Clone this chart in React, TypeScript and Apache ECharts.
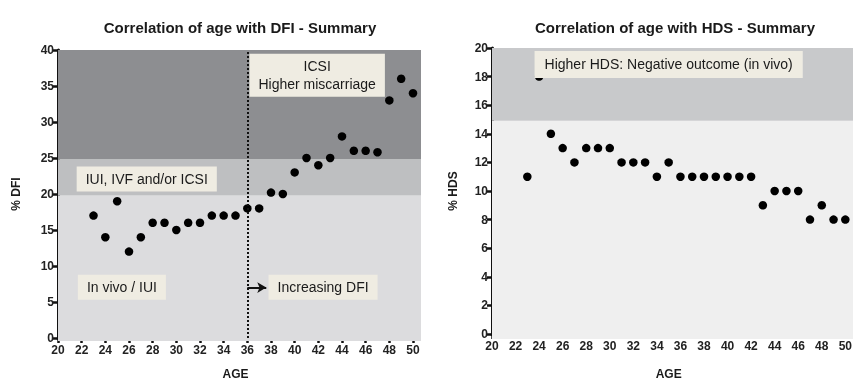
import React, { useEffect, useRef } from "react";
import * as echarts from "echarts";

const ages = [23, 24, 25, 26, 27, 28, 29, 30, 31, 32, 33, 34, 35, 36, 37, 38, 39, 40, 41, 42, 43, 44, 45, 46, 47, 48, 49, 50];
const dfiValues = [17, 14, 19, 12, 14, 16, 16, 15, 16, 16, 17, 17, 17, 18, 18, 20.2, 20, 23, 25, 24, 25, 28, 26, 26, 25.8, 33, 36, 34];
const hdsValues = [11, 18, 14, 13, 12, 13, 13, 13, 12, 12, 12, 11, 12, 11, 11, 11, 11, 11, 11, 11, 9, 10, 10, 10, 8, 9, 8, 8];

const xTicks = [20, 22, 24, 26, 28, 30, 32, 34, 36, 38, 40, 42, 44, 46, 48, 50];
const dfiBands = [[0, 20], [20, 25], [25, 40]];
const hdsBands = [[0, 15], [15, 20]];
const dfiThresholdAge = 36;
const arrowFrom = [36, 7];
const arrowTo = [37.6, 7];

const dfiNotes = [
  { name: "ICSI\nHigher miscarriage", pos: [41.9, 36.5] },
  { name: "IUI, IVF and/or ICSI", pos: [27.5, 22.1] },
  { name: "In vivo / IUI", pos: [25.4, 7.05] },
  { name: "Increasing DFI", pos: [42.4, 7.05] },
];
const hdsNotes = [{ name: "Higher HDS: Negative outcome (in vivo)", pos: [35, 18.85] }];

const FONT = "'Liberation Sans', Arial, Helvetica, sans-serif";
const dfiBandColors = ["#dcdcde", "#bebfc1", "#8d8e91"];
const hdsBandColors = ["#efefef", "#c8c9cb"];

export default function App() {
  const ref = useRef<HTMLDivElement>(null);
  useEffect(() => {
    if (!ref.current) return;
    const chart = echarts.init(ref.current, undefined, { renderer: "svg" });

    const axisLabel = { fontFamily: FONT, fontWeight: "bold", fontSize: 12, color: "#222" };
    const axisLine = { show: true, onZero: false, lineStyle: { color: "#111", width: 3 } };
    const axisTick = { show: true, length: 5, lineStyle: { color: "#111", width: 2.5 } };
    const nameStyle = { fontFamily: FONT, fontWeight: "bold", fontSize: 12, color: "#1a1a1a" };

    const mkX = (gridIndex: number, name: string, gap: number) => ({
      type: "value", gridIndex, min: xTicks[0], max: xTicks[xTicks.length - 1], interval: 2,
      name, nameLocation: "middle", nameGap: gap, nameTextStyle: nameStyle,
      axisLine, axisTick, axisLabel: { ...axisLabel, margin: 6 }, splitLine: { show: false },
    });
    const mkY = (gridIndex: number, max: number, interval: number, name: string, gap: number) => ({
      type: "value", gridIndex, min: 0, max, interval,
      name, nameLocation: "middle", nameGap: gap, nameRotate: 90, nameTextStyle: nameStyle,
      axisLine, axisTick, axisLabel: { ...axisLabel, margin: 4 }, splitLine: { show: false },
    });
    const hiddenX = (gridIndex: number, max: number) => ({
      type: "value", gridIndex, min: 20, max, show: false, splitLine: { show: false },
    });
    const hiddenY = (gridIndex: number, max: number) => ({
      type: "value", gridIndex, min: 0, max, show: false, splitLine: { show: false },
    });

    const bandSeries = (xi: number, yi: number, bands: number[][], colors: string[]) => ({
      type: "scatter", xAxisIndex: xi, yAxisIndex: yi, silent: true, z: 0,
      symbolSize: 0, data: [[20, 0]],
      markArea: {
        silent: true, label: { show: false },
        data: bands.map((b, i) => [{ yAxis: b[0], itemStyle: { color: colors[i], opacity: 1 } }, { yAxis: b[1] }]),
      },
    });

    const noteSeries = (xi: number, yi: number, notes: { name: string; pos: number[] }[], padding: number[]) => ({
      type: "scatter", xAxisIndex: xi, yAxisIndex: yi, silent: true, z: 10,
      symbolSize: 1, itemStyle: { color: "rgba(0,0,0,0)", opacity: 1 },
      data: notes.map((n) => ({ name: n.name, value: n.pos })),
      label: {
        show: true, position: "inside", formatter: (p: any) => p.name,
        fontFamily: FONT, fontSize: 14, color: "#1a1a1a", lineHeight: 18, align: "center",
        backgroundColor: "#efece2", padding,
      },
    });

    chart.setOption({
      animation: false,
      title: [
        { text: "Correlation of age with DFI - Summary", left: 235, top: 15, textAlign: "center",
          textStyle: { fontFamily: FONT, fontWeight: "bold", fontSize: 15, color: "#1a1a1a" } },
        { text: "Correlation of age with HDS - Summary", left: 670, top: 15, textAlign: "center",
          textStyle: { fontFamily: FONT, fontWeight: "bold", fontSize: 15, color: "#1a1a1a" } },
      ],
      grid: [
        { left: 58, right: 442, top: 50, bottom: 44 },
        { left: 58, right: 434, top: 50, bottom: 44 },
        { left: 492, right: 8, top: 48, bottom: 46 },
        { left: 492, right: 2, top: 48, bottom: 46 },
      ],
      xAxis: [mkX(0, "AGE", 30), hiddenX(1, 50.7), mkX(2, "AGE", 34), hiddenX(3, 50.5)],
      yAxis: [mkY(0, 40, 5, "% DFI", 36), hiddenY(1, 40), mkY(2, 20, 2, "% HDS", 33), hiddenY(3, 20)],
      series: [
        bandSeries(1, 1, dfiBands, dfiBandColors),
        bandSeries(3, 3, hdsBands, hdsBandColors),
        {
          type: "scatter", xAxisIndex: 0, yAxisIndex: 0, z: 3,
          symbolSize: 8.5, itemStyle: { color: "#000", opacity: 1 },
          data: ages.map((a, i) => [a, dfiValues[i]]),
          markLine: {
            silent: true, symbol: ["none", "none"], label: { show: false },
            lineStyle: { color: "#111", width: 2, type: [2, 2] },
            data: [{ xAxis: dfiThresholdAge }],
          },
        },
        {
          type: "scatter", xAxisIndex: 2, yAxisIndex: 2, z: 3,
          symbolSize: 8.5, itemStyle: { color: "#000", opacity: 1 },
          data: ages.map((a, i) => [a, hdsValues[i]]),
        },
        {
          type: "scatter", xAxisIndex: 0, yAxisIndex: 0, z: 4, symbolSize: 0, data: [],
          markLine: {
            silent: true, symbol: ["none", "arrow"], symbolSize: [8, 9], label: { show: false },
            lineStyle: { color: "#111", width: 2, type: "solid" },
            data: [[{ coord: arrowFrom }, { coord: arrowTo }]],
          },
        },
        noteSeries(0, 0, dfiNotes, [4, 9, 3, 9]),
        noteSeries(2, 2, hdsNotes, [5, 10, 4, 10]),
      ],
    });
    return () => chart.dispose();
  }, []);
  return <div ref={ref} style={{ position: "fixed", left: 0, top: 0, width: 855, height: 385 }} />;
}
